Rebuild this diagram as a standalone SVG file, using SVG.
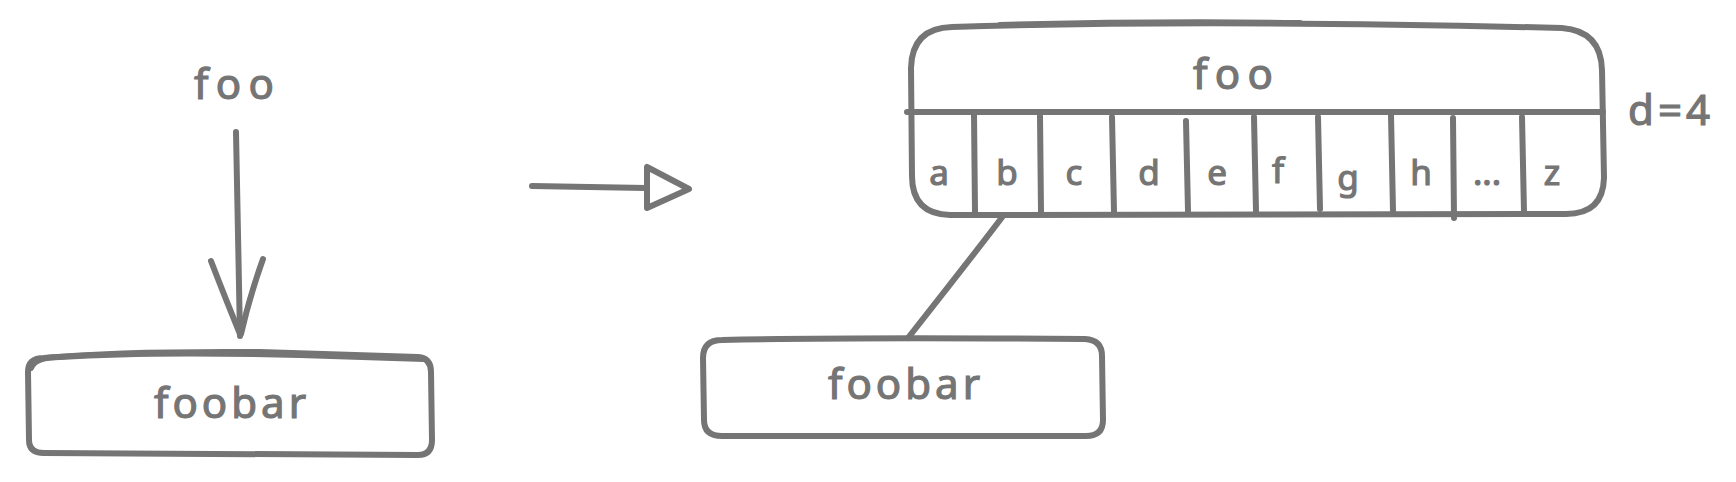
<svg xmlns="http://www.w3.org/2000/svg" width="1736" height="482" viewBox="0 0 1736 482">
<style>
.s{fill:none;stroke:#757575;stroke-width:6;stroke-linecap:round;stroke-linejoin:round}
.t{fill:#757575;stroke:#757575;stroke-width:1.2;font-family:"Noto Sans","Liberation Sans",sans-serif;text-anchor:middle}
.big{font-size:42px}
.cell{font-size:35px}
</style>
<rect width="1736" height="482" fill="#ffffff"/>
<g id="foo-left">
<text class="t big" x="234" y="99" textLength="80" lengthAdjust="spacing">foo</text>
</g>
<g id="foobar-left">
<path class="s" d="M44 358 Q120 351 260 352 L418 357 Q431 358 431 372 L432 440 Q432 455 418 455 L44 453 Q29 453 29 440 L28 372 Q28 358 44 358 Z"/>
<path class="s" d="M31 368 Q35 357 60 357 Q150 351 300 355 L424 359" stroke-width="3"/>
<text class="t big" x="230" y="418" textLength="152" lengthAdjust="spacing">foobar</text>
</g>
<g id="trie">
<path class="s" d="M952 27 Q1200 19 1562 28 Q1601 31 1602 70 L1604 178 Q1603 214 1566 214 L950 215 Q912 214 912 176 L911 68 Q912 28 952 27 Z"/>
<path class="s" d="M1000 25 Q1150 21 1300 23" stroke-width="2.5"/>
<path class="s" d="M907 112 L1603 112"/>
<text class="t big" x="1233" y="89" textLength="80" lengthAdjust="spacing">foo</text>
<path class="s" d="M974 114 L975 212"/>
<path class="s" d="M1040 116 L1041 212"/>
<path class="s" d="M1112 117 L1114 212"/>
<path class="s" d="M1186 121 L1188 211"/>
<path class="s" d="M1254 117 L1256 211"/>
<path class="s" d="M1318 117 L1320 209"/>
<path class="s" d="M1391 115 L1393 211"/>
<path class="s" d="M1453 118 L1454 218"/>
<path class="s" d="M1522 117 L1524 212"/>
<text class="t cell" x="939" y="185">a</text>
<text class="t cell" x="1007" y="185">b</text>
<text class="t cell" x="1074" y="185">c</text>
<text class="t cell" x="1149" y="185">d</text>
<text class="t cell" x="1217" y="185">e</text>
<text class="t cell" x="1278" y="183">f</text>
<text class="t cell" x="1348" y="190">g</text>
<text class="t cell" x="1421" y="185">h</text>
<text class="t cell" x="1487" y="185">...</text>
<text class="t cell" x="1552" y="185">z</text>
<text class="t" x="1669" y="125" font-size="42" textLength="82" lengthAdjust="spacing">d=4</text>
</g>
<g id="foobar-right">
<path class="s" d="M722 340 Q850 337 1085 339 Q1102 340 1102 356 L1103 420 Q1103 436 1086 436 L722 436 Q704 436 704 420 L703 358 Q703 340 722 340 Z"/>
<text class="t big" x="904" y="399" textLength="152" lengthAdjust="spacing">foobar</text>
</g>
<g id="connectors">
<path class="s" d="M236 132 L240 336"/>
<path class="s" d="M211 261 Q226 300 240 334"/>
<path class="s" d="M263 259 Q250 295 241 334"/>
<path class="s" d="M532 186 L646 188"/>
<path class="s" d="M647 167 L647 208 L689 189 Z"/>
<path class="s" d="M1003 216 Q982 244 908 338"/>
</g>
</svg>
